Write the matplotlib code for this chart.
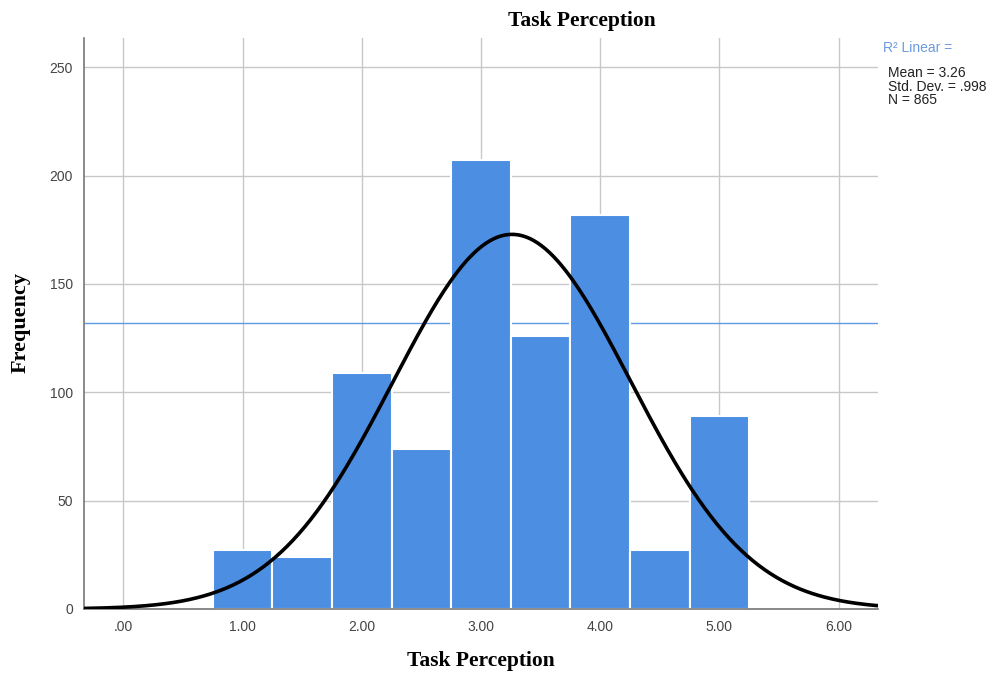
import numpy as np
import matplotlib.pyplot as plt

plt.rcParams['font.family'] = ['Liberation Sans', 'DejaVu Sans']

# histogram bins (midpoints) and frequencies
bin_centers = [1.0, 1.5, 2.0, 2.5, 3.0, 3.5, 4.0, 4.5, 5.0]
counts = [27, 24, 109, 74, 207, 126, 182, 27, 89]
bin_width = 0.5

mean_val = 3.26
std_val = 0.998
n_val = 865
fit_line_y = 132

xticks = [0, 1, 2, 3, 4, 5, 6]
xtick_labels = ['.00', '1.00', '2.00', '3.00', '4.00', '5.00', '6.00']
yticks = [0, 50, 100, 150, 200, 250]

fig = plt.figure(figsize=(9.97, 6.79), dpi=100)
ax = fig.add_axes([0.0843, 0.1031, 0.7963, 0.8409])

ax.bar(bin_centers, counts, width=bin_width, color='#4b8ee2',
       edgecolor='white', linewidth=1.5, zorder=2)

# normal curve scaled to the histogram
xs = np.linspace(-0.33, 6.33, 400)
ys = n_val * bin_width / (std_val * np.sqrt(2 * np.pi)) * np.exp(-0.5 * ((xs - mean_val) / std_val) ** 2)
ax.plot(xs, ys, color='black', lw=2.6, zorder=4, solid_capstyle='round')

ax.axhline(fit_line_y, color='#5f9be4', lw=1.0, zorder=1.5)

ax.set_xlim(-0.33, 6.33)
ax.set_ylim(0, 263.5)
ax.set_xticks(xticks)
ax.set_xticklabels(xtick_labels)
ax.set_yticks(yticks)
ax.tick_params(length=0, labelsize=10, colors='#444444', pad=8)
ax.grid(True, color='#c8c8c8', lw=1.0, zorder=0)
ax.set_axisbelow(True)

for s in ['top', 'right']:
    ax.spines[s].set_visible(False)
for s in ['left', 'bottom']:
    ax.spines[s].set_color('#777777')
    ax.spines[s].set_linewidth(1.2)

serif = ['Liberation Serif', 'DejaVu Serif']
fig.text(0.584, 0.969, 'Task Perception', ha='center', va='center',
         fontsize=15.5, fontweight='bold', family=serif)
ax.set_xlabel('Task Perception', fontsize=15.5, fontweight='bold', family=serif, labelpad=12)
fig.text(0.021, 0.525, 'Frequency', rotation=90, ha='center', va='center',
         fontsize=16, fontweight='bold', family=serif)

fig.text(0.886, 0.929, 'R\u00b2 Linear =', fontsize=10, color='#6a9be0', va='center')
fig.text(0.891, 0.892, 'Mean = %.2f' % mean_val, fontsize=10, color='#222222', va='center')
fig.text(0.891, 0.872, 'Std. Dev. = %s' % ('%.3f' % std_val).lstrip('0'), fontsize=10,
         color='#222222', va='center')
fig.text(0.891, 0.852, 'N = %d' % n_val, fontsize=10, color='#222222', va='center')

fig.savefig('out.png', dpi=100, facecolor='white')
